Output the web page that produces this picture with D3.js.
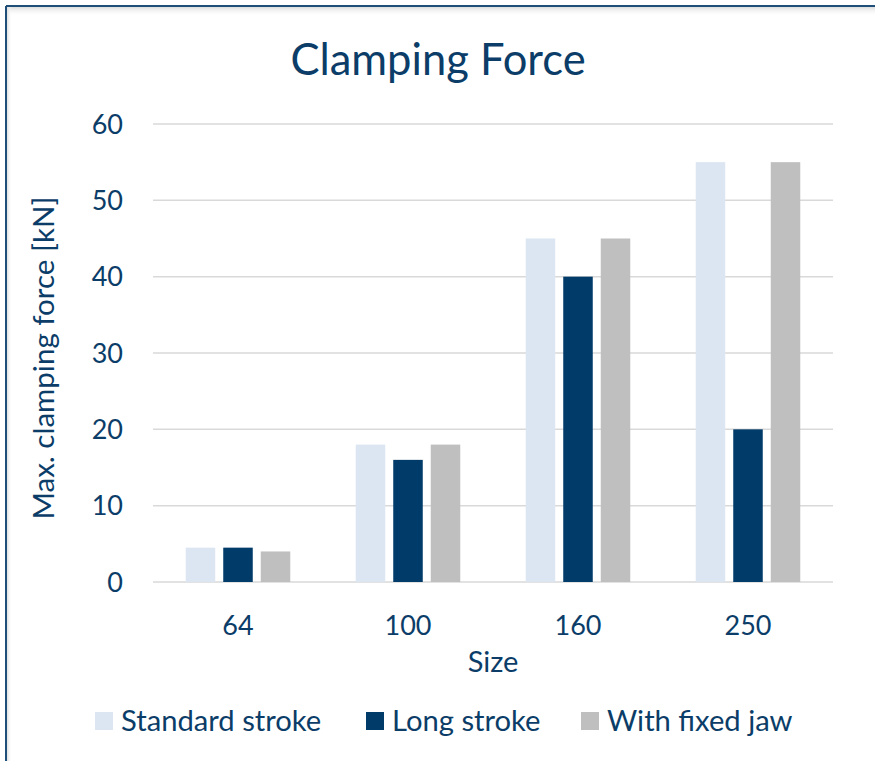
<!DOCTYPE html>
<html>
<head>
<meta charset="utf-8">
<script src="https://cdn.jsdelivr.net/npm/d3@7"></script>
<style>
  html, body { margin: 0; padding: 0; background: #ffffff; }
  svg { display: block; }
  text { font-family: Lato, "Open Sans", sans-serif; fill: #0b3d68; }
</style>
</head>
<body>
<svg id="chart" width="875" height="761"></svg>
<script>
// ---- data ----
const categories = ["64", "100", "160", "250"];
const seriesNames = ["Standard stroke", "Long stroke", "With fixed jaw"];
const standardStroke = [4.5, 18, 45, 55];
const longStroke = [4.5, 16, 40, 20];
const withFixedJaw = [4, 18, 45, 55];
const yTicks = [0, 10, 20, 30, 40, 50, 60];
const seriesColors = ["#dce6f2", "#003b69", "#bfbfbf"];

const seriesValues = [standardStroke, longStroke, withFixedJaw];

const svg = d3.select("#chart");
const W = 875, H = 761;

// frame with shadow
const defs = svg.append("defs");
const gTop = defs.append("linearGradient").attr("id", "shTop").attr("x1", 0).attr("y1", 0).attr("x2", 0).attr("y2", 1);
gTop.append("stop").attr("offset", 0).attr("stop-color", "#dcdcdc");
gTop.append("stop").attr("offset", 1).attr("stop-color", "#ffffff").attr("stop-opacity", 0);
const gLeft = defs.append("linearGradient").attr("id", "shLeft").attr("x1", 0).attr("y1", 0).attr("x2", 1).attr("y2", 0);
gLeft.append("stop").attr("offset", 0).attr("stop-color", "#e0e0e0");
gLeft.append("stop").attr("offset", 1).attr("stop-color", "#ffffff").attr("stop-opacity", 0);

svg.append("rect").attr("x", 7).attr("y", 7).attr("width", W - 7).attr("height", 9).attr("fill", "url(#shTop)");
svg.append("rect").attr("x", 7).attr("y", 7).attr("width", 5).attr("height", H - 7).attr("fill", "url(#shLeft)");
svg.append("line").attr("x1", 6).attr("x2", W).attr("y1", 6).attr("y2", 6)
  .attr("stroke", "#1f4e79").attr("stroke-width", 2);
svg.append("line").attr("x1", 6).attr("x2", 6).attr("y1", 6).attr("y2", H)
  .attr("stroke", "#1f4e79").attr("stroke-width", 2);

// layout
const plot = { left: 153, right: 833, top: 124, bottom: 582 };

const x0 = d3.scaleBand().domain(categories).range([plot.left, plot.right]).padding(0);
const x1 = d3.scaleBand().domain(seriesNames).range([0, x0.bandwidth()])
  .paddingInner(8 / 37.5).paddingOuter(0.873);
const y = d3.scaleLinear().domain([0, 60]).range([plot.bottom, plot.top]);

// gridlines
svg.append("g").selectAll("line").data(yTicks).join("line")
  .attr("x1", plot.left).attr("x2", plot.right)
  .attr("y1", d => y(d)).attr("y2", d => y(d))
  .attr("stroke", "#d9d9d9").attr("stroke-width", 1.5);

// y tick labels
svg.append("g").selectAll("text").data(yTicks).join("text")
  .attr("x", 123).attr("y", d => y(d))
  .attr("dy", "0.36em")
  .attr("text-anchor", "end")
  .attr("font-size", 27)
  .text(d => d);

// bars
const groups = svg.append("g").selectAll("g").data(categories).join("g")
  .attr("transform", c => `translate(${x0(c)},0)`);
groups.selectAll("rect")
  .data((c, ci) => seriesNames.map((s, si) => ({ s, si, v: seriesValues[si][ci] })))
  .join("rect")
  .attr("x", d => x1(d.s))
  .attr("width", x1.bandwidth())
  .attr("y", d => y(d.v))
  .attr("height", d => y(0) - y(d.v))
  .attr("fill", d => seriesColors[d.si]);

// x category labels
svg.append("g").selectAll("text").data(categories).join("text")
  .attr("x", c => x0(c) + x0.bandwidth() / 2)
  .attr("y", 635)
  .attr("text-anchor", "middle")
  .attr("font-size", 27)
  .text(c => c);

// axis titles
svg.append("text")
  .attr("x", (plot.left + plot.right) / 2).attr("y", 672)
  .attr("text-anchor", "middle").attr("font-size", 29)
  .text("Size");

svg.append("text")
  .attr("transform", `translate(54,358) rotate(-90)`)
  .attr("text-anchor", "middle").attr("font-size", 29.5)
  .text("Max. clamping force [kN]");

// title
svg.append("text")
  .attr("x", 438).attr("y", 75)
  .attr("text-anchor", "middle").attr("font-size", 43.5)
  .text("Clamping Force");

// legend
const legendX = [95, 366, 581];
const leg = svg.append("g").selectAll("g").data(seriesNames).join("g")
  .attr("transform", (d, i) => `translate(${legendX[i]},712)`);
leg.append("rect").attr("width", 18).attr("height", 18).attr("fill", (d, i) => seriesColors[i]);
leg.append("text").attr("x", 26).attr("y", 19).attr("font-size", 29.2).text(d => d);
</script>
</body>
</html>
